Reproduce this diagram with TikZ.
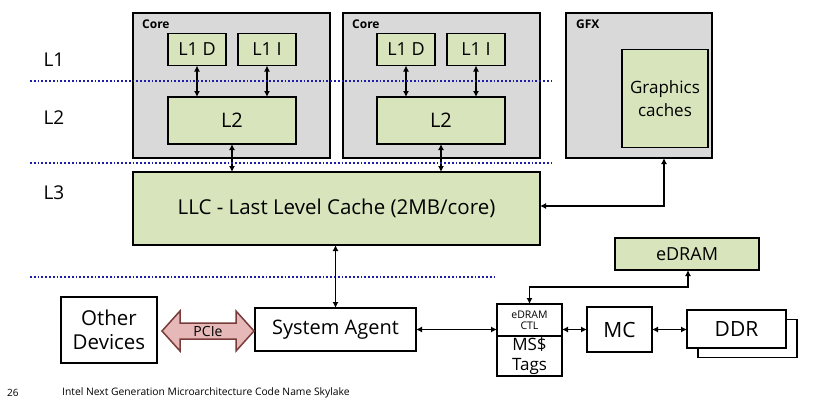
\documentclass[tikz,border=0pt]{standalone}
\usepackage{fontspec}
\setmainfont{Open Sans}
\usetikzlibrary{arrows.meta,calc}
\definecolor{coregray}{HTML}{D9D9D9}
\definecolor{cachegreen}{HTML}{D8E4BC}
\definecolor{pciefill}{HTML}{E6B9B8}
\definecolor{pcieedge}{HTML}{7A3B3B}
\definecolor{dotblue}{HTML}{1C1CA6}
\begin{document}
\begin{tikzpicture}[x=1pt,y=-1pt,
  box/.style={draw=black, line width=1.8pt, inner sep=0pt, outer sep=0pt, align=center},
  corebox/.style={box, fill=coregray},
  cache/.style={box, fill=cachegreen},
  plain/.style={box, fill=white},
  conn/.style={line width=1.4pt, {Latex[length=6pt,width=6pt]}-{Latex[length=6pt,width=6pt]}},
  level/.style={dotblue, line width=2.2pt, dash pattern=on 1.8pt off 2pt},
  lvl/.style={font=\fontsize{19}{22}\selectfont},
  tag/.style={font=\fontsize{12}{14}\selectfont\bfseries, anchor=west, inner sep=0pt}]
\useasboundingbox (0,0) rectangle (822,405);
\fill[white] (0,0) rectangle (822,405);

% level labels
\node[lvl] (l1) at (54,60) {L1};
\node[lvl] (l2) at (54,118) {L2};
\node[lvl] (l3) at (54,193) {L3};

% cores
\node[corebox, minimum width=197pt, minimum height=145pt] (core1) at (231.5,85.5) {};
\node[tag] (core1t) at (142,24) {Core};
\node[corebox, minimum width=197pt, minimum height=145pt] (core2) at (441.5,85.5) {};
\node[tag] (core2t) at (352,24) {Core};
\node[corebox, minimum width=146pt, minimum height=145pt] (gfx) at (639,85.5) {};
\node[tag] (gfxt) at (576,24) {GFX};

\foreach \n/\cx in {1/232, 2/441}{
  \node[cache, minimum width=58pt, minimum height=32pt, font=\fontsize{18}{20}\selectfont] (l1d\n) at (\cx-35,49.5) {L1 D};
  \node[cache, minimum width=58pt, minimum height=32pt, font=\fontsize{18}{20}\selectfont] (l1i\n) at (\cx+35,49.5) {L1 I};
  \node[cache, minimum width=128pt, minimum height=47pt, font=\fontsize{20}{22}\selectfont] (l2\n) at (\cx,120.5) {L2};
  \draw[conn] (l1d\n.south) -- (l1d\n.south |- l2\n.north);
  \draw[conn] (l1i\n.south) -- (l1i\n.south |- l2\n.north);
}
\node[cache, minimum width=86pt, minimum height=98pt, font=\fontsize{17}{23}\selectfont] (gc) at (665,98.5) {Graphics\\caches};

% LLC
\node[cache, minimum width=407pt, minimum height=73pt, font=\fontsize{20.5}{24}\selectfont] (llc) at (336.5,208.5) {LLC - Last Level Cache (2MB/core)};
\draw[conn] (l21.south) -- (l21.south |- llc.north);
\draw[conn] (l22.south) -- (l22.south |- llc.north);
\coordinate (gfxdrop) at (664,206);
\draw[conn] (gfx.south -| gfxdrop) -- (gfxdrop) -- (gfxdrop -| llc.east);

% dotted level lines
\draw[level] (30,81) -- (553,81);
\draw[level] (30,163) -- (553,163);
\draw[level] (30,277) -- (497,277);

% eDRAM
\node[cache, minimum width=144pt, minimum height=32pt, font=\fontsize{18}{20}\selectfont] (edram) at (687,254) {eDRAM};

% bottom row
\node[plain, minimum width=96pt, minimum height=66pt, font=\fontsize{20.5}{24}\selectfont] (od) at (109,330) {Other\\Devices};
\node[plain, minimum width=161pt, minimum height=43pt, font=\fontsize{20}{22}\selectfont] (sa) at (335.5,329.5) {System Agent};
\node[plain, minimum width=65pt, minimum height=32pt, font=\fontsize{10.5}{11}\selectfont] (ctl) at (529.5,320) {eDRAM\\CTL};
\node[plain, minimum width=65pt, minimum height=40pt, font=\fontsize{17}{20}\selectfont, anchor=north] (tags) at (ctl.south) {MS\$\\Tags};
\node[plain, minimum width=65pt, minimum height=45pt, font=\fontsize{21}{24}\selectfont] (mc) at (619.5,329.5) {MC};
\node[plain, minimum width=99pt, minimum height=38pt] (ddrb) at (747.5,338.5) {};
\node[plain, minimum width=99pt, minimum height=38pt, font=\fontsize{21}{24}\selectfont] (ddr) at (736.5,329) {DDR};

\draw[conn] (llc.south -| sa.north) -- (sa.north);
\draw[conn] (sa.east) -- (sa.east -| ctl.west);
\draw[conn] (ctl.east |- mc.west) -- (mc.west);
\draw[conn] (mc.east) -- (mc.east -| ddr.west);
\coordinate (ebend) at (688,287);
\draw[conn] (edram.south -| ebend) -- (ebend) -- (ebend -| ctl.north) -- (ctl.north);

% PCIe double arrow
\coordinate (pl) at ($(od.east)+(5,1)$);
\coordinate (pr) at ($(sa.west)+(-1,1.5)$);
\draw[draw=pcieedge, fill=pciefill, line width=1.5pt, line join=miter]
  (pl) -- ++(18,-20) -- ++(0,12) -- ($(pr)+(-18,-8)$) -- ++(0,-12) -- (pr)
  -- ++(-18,20) -- ++(0,-12) -- ($(pl)+(18,8)$) -- ++(0,12) -- cycle;
\node[font=\fontsize{14}{16}\selectfont, inner sep=0pt] (pcie) at ($(pl)!0.5!(pr)$) {PCIe};

% footer
\node[font=\fontsize{10}{11}\selectfont, anchor=west, inner sep=0pt] (pg) at (7,393) {26};
\node[font=\fontsize{10.3}{12}\selectfont, anchor=west, inner sep=0pt] (ft) at (62,393) {Intel Next Generation Microarchitecture Code Name Skylake};
\end{tikzpicture}
\end{document}
